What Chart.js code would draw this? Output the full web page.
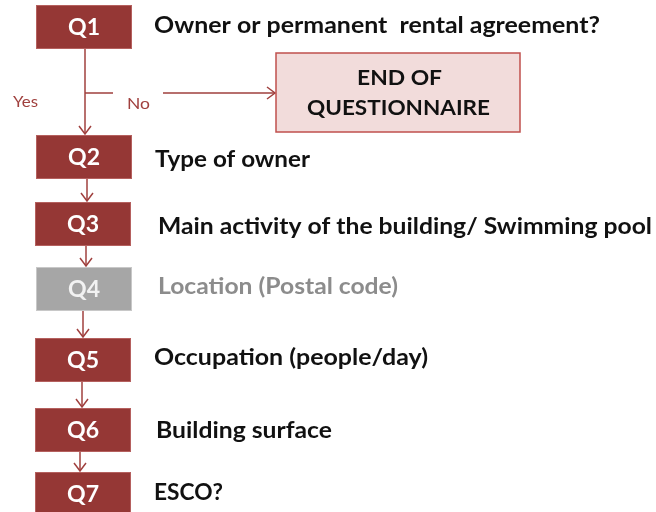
<!DOCTYPE html>
<html>
<head>
<meta charset="utf-8">
<script src="https://cdn.jsdelivr.net/npm/chart.js@4"></script>
<style>
  html, body { margin: 0; padding: 0; background: #fff; }
  #wrap { width: 656px; height: 512px; }
</style>
</head>
<body>
<div id="wrap"><canvas id="flow" width="656" height="512"></canvas></div>
<script>
// flowchart content
const questionIds = ['Q1', 'Q2', 'Q3', 'Q4', 'Q5', 'Q6', 'Q7'];
const questionTexts = [
  'Owner or permanent  rental agreement?',
  'Type of owner',
  'Main activity of the building/ Swimming pool',
  'Location (Postal code)',
  'Occupation (people/day)',
  'Building surface',
  'ESCO?'
];
const inactive = [false, false, false, true, false, false, false];
const endLabel = ['END OF', 'QUESTIONNAIRE'];
const branchLabels = ['Yes', 'No'];

// layout (canvas units, y down)
const boxLeft = [36, 36, 35, 36, 35, 35, 35];
const boxTop = [5, 135, 202, 267, 338, 408, 472];
const boxW = 96, boxH = 44;
const textX = [154, 155, 158, 158, 154, 156, 154];
const textBase = [33, 167, 234, 294, 365, 438, 500];
const textW = [446, 155, 494, 240, 274, 176, 69];
const arrowX = [85, 87, 86, 83, 82, 80];
const endBox = { x0: 276, y0: 53, x1: 520, y1: 132 };
const branchY = 93;

const RED = '#953735';
const ARROW = '#a0403e';

function drawArrowHead(ctx, x, y, dir) {
  // dir: 'down' or 'right', tip at x,y
  ctx.beginPath();
  if (dir === 'down') {
    ctx.moveTo(x - 6, y - 8); ctx.lineTo(x, y); ctx.lineTo(x + 6, y - 8);
  } else {
    ctx.moveTo(x - 8, y - 6); ctx.lineTo(x, y); ctx.lineTo(x - 8, y + 6);
  }
  ctx.stroke();
}

function fitText(ctx, str, x, y, w, weight, size) {
  ctx.font = `${weight} ${size}px Lato, "Open Sans", sans-serif`;
  const m = ctx.measureText(str).width;
  ctx.save();
  ctx.translate(x, y);
  ctx.scale(w / m, 1);
  ctx.fillText(str, 0, 0);
  ctx.restore();
}

const flowPlugin = {
  id: 'flow',
  afterDatasetsDraw(chart) {
    const { ctx, scales } = chart;
    const X = v => scales.x.getPixelForValue(v);
    const Y = v => scales.y.getPixelForValue(v);
    ctx.save();

    // connectors
    ctx.strokeStyle = ARROW;
    ctx.lineWidth = 1.5;
    for (let i = 0; i < questionIds.length - 1; i++) {
      const x = X(arrowX[i]);
      const y0 = Y(boxTop[i] + boxH);
      const y1 = Y(boxTop[i + 1] - 1);
      ctx.beginPath(); ctx.moveTo(x, y0); ctx.lineTo(x, y1); ctx.stroke();
      drawArrowHead(ctx, x, y1, 'down');
    }
    // "No" branch
    ctx.beginPath();
    ctx.moveTo(X(arrowX[0]), Y(branchY)); ctx.lineTo(X(113), Y(branchY));
    ctx.moveTo(X(163), Y(branchY)); ctx.lineTo(X(endBox.x0 - 1), Y(branchY));
    ctx.stroke();
    drawArrowHead(ctx, X(endBox.x0 - 1), Y(branchY), 'right');

    ctx.fillStyle = ARROW;
    ctx.textAlign = 'left';
    ctx.textBaseline = 'alphabetic';
    fitText(ctx, branchLabels[0], X(13), Y(107), 25, 'normal', 16);
    fitText(ctx, branchLabels[1], X(127), Y(109), 23, 'normal', 16);

    // end box
    ctx.fillStyle = '#f2dcdb';
    ctx.strokeStyle = '#c0504d';
    ctx.lineWidth = 1.5;
    ctx.fillRect(X(endBox.x0), Y(endBox.y0), X(endBox.x1) - X(endBox.x0), Y(endBox.y1) - Y(endBox.y0));
    ctx.strokeRect(X(endBox.x0), Y(endBox.y0), X(endBox.x1) - X(endBox.x0), Y(endBox.y1) - Y(endBox.y0));
    ctx.fillStyle = '#111';
    fitText(ctx, endLabel[0], X(357), Y(85), 85, 'bold', 21);
    fitText(ctx, endLabel[1], X(307), Y(115), 183, 'bold', 21);

    // question boxes and texts
    questionIds.forEach((q, i) => {
      const x0 = X(boxLeft[i]), y0 = Y(boxTop[i]);
      const w = X(boxLeft[i] + boxW) - x0, h = Y(boxTop[i] + boxH) - y0;
      ctx.fillStyle = inactive[i] ? '#a6a6a6' : RED;
      ctx.strokeStyle = inactive[i] ? '#c8c8c8' : '#b5605e';
      ctx.lineWidth = 1;
      ctx.fillRect(x0, y0, w, h);
      ctx.strokeRect(x0 + 0.5, y0 + 0.5, w - 1, h - 1);
      ctx.fillStyle = inactive[i] ? '#f2f2f2' : '#fff';
      ctx.textAlign = 'left';
      ctx.textBaseline = 'alphabetic';
      fitText(ctx, q, x0 + w / 2 - 16, y0 + 30, 32, 'bold', 22);

      ctx.fillStyle = inactive[i] ? '#8c8c8c' : '#111';
      fitText(ctx, questionTexts[i], X(textX[i]), Y(textBase[i]), textW[i], 'bold', 22);
    });
    ctx.restore();
  }
};

new Chart(document.getElementById('flow'), {
  type: 'scatter',
  data: { datasets: [{ data: [], pointRadius: 0 }] },
  options: {
    responsive: false,
    animation: false,
    layout: { padding: 0 },
    scales: {
      x: { type: 'linear', min: 0, max: 656, display: false },
      y: { type: 'linear', min: 0, max: 512, reverse: true, display: false }
    },
    plugins: { legend: { display: false }, tooltip: { enabled: false } }
  },
  plugins: [flowPlugin]
});
</script>
</body>
</html>
